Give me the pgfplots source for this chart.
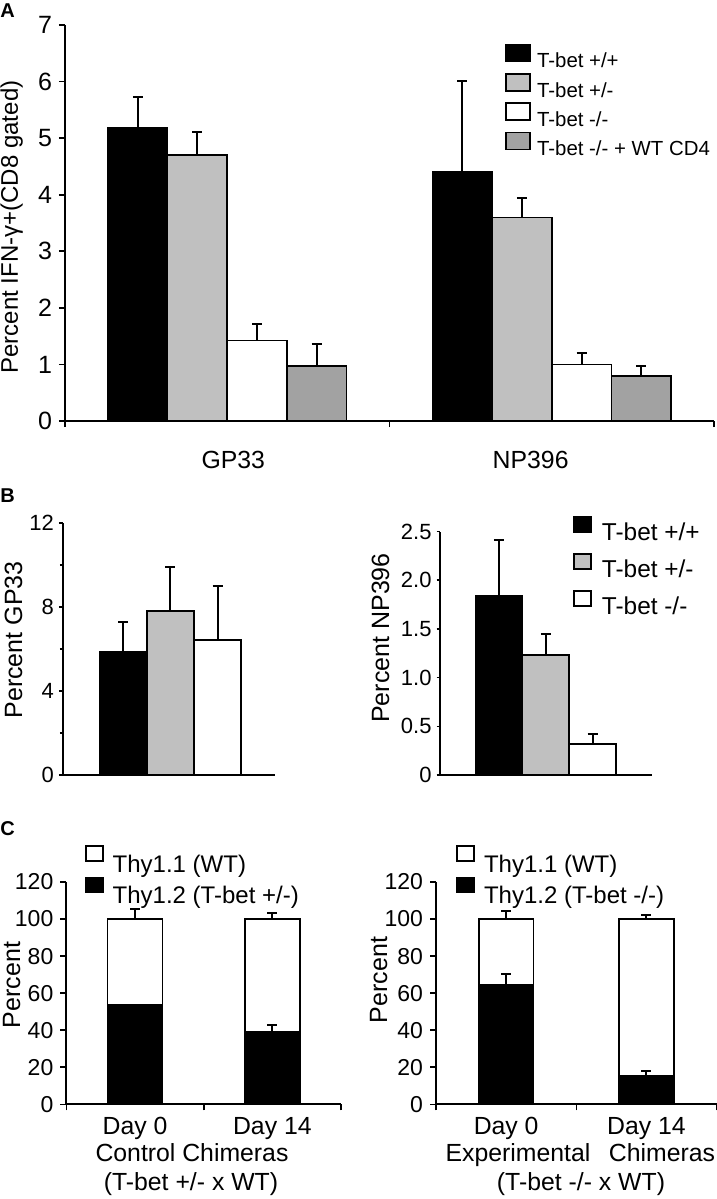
\documentclass[border=0pt]{standalone}
\usepackage{pgfplots}
\pgfplotsset{compat=1.18}
\usepackage{fontspec}
\setmainfont{Liberation Sans}
\definecolor{lgray}{HTML}{C0C0C0}
\definecolor{hgray}{HTML}{A2A2A2}
\pgfplotsset{
  panel/.style={
    scale only axis, anchor=south west,
    axis x line*=bottom, axis y line*=left,
    axis line style={line width=1pt, -},
    tick style={black, line width=0.8pt},
    tick align=outside,
    ymin=0, clip=false,
    /pgf/number format/assume math mode=true,
    yticklabel style={font=\fontsize{11.5}{13}\selectfont},
    xticklabel style={font=\fontsize{12.4}{14}\selectfont},
    error bars/y dir=plus, error bars/y explicit,
    error bars/error bar style={line width=1pt, black},
    error bars/error mark=-,
    error bars/error mark options={rotate=90, line width=1pt, mark size=2.5pt, black},
    legend cell align=left,
  },
  bx/.style={draw=black, line width=0.8pt},
  boxA/.style={legend image code/.code={\draw[##1,/tikz/.cd] (0pt,-0.5pt) rectangle (12pt,8pt);}},
  boxB/.style={legend image code/.code={\draw[##1,/tikz/.cd] (0pt,0.2pt) rectangle (8.5pt,7.8pt);}},
  boxC/.style={legend image code/.code={\draw[##1,/tikz/.cd] (0pt,1.2pt) rectangle (8.5pt,8.6pt);}},
}
\begin{document}
\begin{tikzpicture}
\useasboundingbox (0pt,0pt) rectangle (358.5pt,-599.5pt);

% ---------------- Panel A ----------------
\begin{axis}[panel, at={(32.5pt,-210.5pt)}, width=324.5pt, height=198pt,
  xmin=0, xmax=2, ymax=7, ytick={0,1,2,3,4,5,6,7},
  major tick length=3pt,
  xtick={0,1,2}, xticklabels={},
  extra x ticks={0.5185,1.435}, extra x tick labels={GP33,NP396},
  extra x tick style={tick style={draw=none}, xticklabel style={anchor=base, yshift=-20.9pt}},
  yticklabel style={font=\fontsize{12.5}{14}\selectfont},
  ybar=0pt, bar width=0.1836,
  legend style={at={(0.678,0.954)}, anchor=north west, draw=none, fill=none,
    inner sep=0pt, row sep=2.0pt, column sep=3pt,
    font=\fontsize{10.2}{12}\selectfont,
    nodes={inner sep=0pt, text height=8pt, text depth=0.5pt}},
]
\addplot[bx, fill=black, boxA] coordinates {(0.5,5.18) +- (0,0.55) (1.5,4.40) +- (0,1.61)};
\addplot[bx, fill=lgray, boxA] coordinates {(0.5,4.70) +- (0,0.40) (1.5,3.60) +- (0,0.35)};
\addplot[bx, fill=white, boxA] coordinates {(0.5,1.42) +- (0,0.29) (1.5,1.00) +- (0,0.20)};
\addplot[bx, fill=hgray, boxA] coordinates {(0.5,0.97) +- (0,0.39) (1.5,0.80) +- (0,0.17)};
\legend{T-bet +/+, T-bet +/-, T-bet -/-, T-bet -/- + WT CD4}
\end{axis}

% ---------------- Panel B left ----------------
\begin{axis}[panel, at={(31.5pt,-387.35pt)}, width=106pt, height=126pt,
  xmin=0, xmax=1, ymax=12, ytick={0,4,8,12}, minor ytick={2,6,10},
  xtick=\empty, major tick length=2pt, minor tick length=1.5pt,
  yticklabel style={font=\fontsize{11}{13}\selectfont, xshift=1pt},
  ybar=0pt, bar width=0.222,
]
\addplot[bx, fill=black] coordinates {(0.507,5.84) +- (0,1.45)};
\addplot[bx, fill=lgray] coordinates {(0.507,7.81) +- (0,2.07)};
\addplot[bx, fill=white] coordinates {(0.507,6.41) +- (0,2.57)};
\end{axis}

% ---------------- Panel B right ----------------
\begin{axis}[panel, at={(219.8pt,-387.5pt)}, width=106.2pt, height=121.75pt,
  xmin=0, xmax=1, ymax=2.5, ytick={0,0.5,1,1.5,2,2.5},
  yticklabels={0,0.5,1.0,1.5,2.0,2.5},
  xtick=\empty, major tick length=1.5pt,
  yticklabel style={font=\fontsize{11}{13}\selectfont, xshift=1pt},
  ybar=0pt, bar width=0.221,
  legend style={at={(0.628,1.064)}, anchor=north west, draw=none, fill=none,
    inner sep=0pt, row sep=6.2pt, column sep=5pt,
    font=\fontsize{12.2}{14}\selectfont,
    nodes={inner sep=0pt, text height=8pt, text depth=0pt}},
]
\addplot[bx, fill=black, boxB] coordinates {(0.5,1.84) +- (0,0.57)};
\addplot[bx, fill=lgray, boxB] coordinates {(0.5,1.23) +- (0,0.22)};
\addplot[bx, fill=white, boxB] coordinates {(0.5,0.32) +- (0,0.10)};
\legend{T-bet +/+, T-bet +/-, T-bet -/-}
\end{axis}

% ---------------- Panel C left ----------------
\begin{axis}[panel, at={(33.2pt,-552.15pt)}, width=137.3pt, height=111.15pt,
  xmin=0, xmax=2, ymax=120, ytick={0,20,40,60,80,100,120},
  major tick length=3pt,
  xtick={0,1,2}, xticklabels={},
  extra x ticks={0.5,1.5}, extra x tick labels={Day 0,Day 14},
  extra x tick style={tick style={draw=none}, xticklabel style={anchor=base, yshift=-11.85pt}},
  ybar, bar width=0.4,
  legend style={at={(0.0667,1.1665)}, anchor=north west, draw=none, fill=none,
    inner sep=0pt, row sep=2.5pt, column sep=4.5pt,
    font=\fontsize{12}{14}\selectfont,
    nodes={inner sep=0pt, text height=8.6pt, text depth=0pt}},
]
\addplot[bx, fill=white, bar shift=0pt, boxC] coordinates {(0.5,100) +- (0,5.6) (1.5,100) +- (0,3.2)};
\addplot[bx, fill=black, bar shift=0pt, boxC] coordinates {(0.5,53.5) +- (0,0) (1.5,39.2) +- (0,3.4)};
\legend{Thy1.1 (WT), Thy1.2 (T-bet +/-)}
\end{axis}

% ---------------- Panel C right ----------------
\begin{axis}[panel, at={(218pt,-552.15pt)}, width=140.3pt, height=111.15pt,
  xmin=0, xmax=2, ymax=120, ytick={0,20,40,60,80,100,120},
  major tick length=3pt,
  xtick={0,1,2}, xticklabels={},
  extra x ticks={0.5,1.5}, extra x tick labels={Day 0,Day 14},
  extra x tick style={tick style={draw=none}, xticklabel style={anchor=base, yshift=-11.85pt}},
  ybar, bar width=0.39,
  legend style={at={(0.0714,1.1665)}, anchor=north west, draw=none, fill=none,
    inner sep=0pt, row sep=2.5pt, column sep=4.5pt,
    font=\fontsize{12}{14}\selectfont,
    nodes={inner sep=0pt, text height=8.6pt, text depth=0pt}},
]
\addplot[bx, fill=white, bar shift=0pt, boxC] coordinates {(0.5,100) +- (0,4.5) (1.5,100) +- (0,2.0)};
\addplot[bx, fill=black, bar shift=0pt, boxC] coordinates {(0.5,64.5) +- (0,5.9) (1.5,15.5) +- (0,2.5)};
\legend{Thy1.1 (WT), Thy1.2 (T-bet -/-)}
\end{axis}

% ---------------- Labels ----------------
\node[anchor=base west, font=\bfseries\fontsize{10}{12}\selectfont, inner sep=0pt] at (0pt,-9pt) {A};
\node[anchor=base west, font=\bfseries\fontsize{10}{12}\selectfont, inner sep=0pt] at (0pt,-251pt) {B};
\node[anchor=base west, font=\bfseries\fontsize{10}{12}\selectfont, inner sep=0pt] at (0pt,-417.5pt) {C};

\node[rotate=90, anchor=base, inner sep=0pt, font=\fontsize{12}{14}\selectfont] at (9pt,-113.5pt) {Percent IFN-γ+(CD8 gated)};
\node[rotate=90, anchor=base, inner sep=0pt, font=\fontsize{12.5}{14}\selectfont] at (11pt,-320pt) {Percent GP33};
\node[rotate=90, anchor=base, inner sep=0pt, font=\fontsize{12.5}{14}\selectfont] at (194.5pt,-319pt) {Percent NP396};
\node[rotate=90, anchor=base, inner sep=0pt, font=\fontsize{12.5}{14}\selectfont] at (10pt,-492.5pt) {Percent};
\node[rotate=90, anchor=base, inner sep=0pt, font=\fontsize{12.5}{14}\selectfont] at (193.5pt,-490pt) {Percent};

\node[anchor=base, inner sep=0pt, font=\fontsize{12.4}{14}\selectfont] at (96pt,-580.5pt) {Control Chimeras};
\node[anchor=base, inner sep=0pt, font=\fontsize{12.4}{14}\selectfont] at (95.5pt,-595pt) {(T-bet +/- x WT)};
\node[anchor=base, inner sep=0pt, font=\fontsize{12.4}{14}\selectfont] at (259pt,-580.5pt) {Experimental};
\node[anchor=base, inner sep=0pt, font=\fontsize{12.4}{14}\selectfont] at (331pt,-580.5pt) {Chimeras};
\node[anchor=base, inner sep=0pt, font=\fontsize{12.4}{14}\selectfont] at (290.5pt,-595pt) {(T-bet -/- x WT)};
\end{tikzpicture}
\end{document}
